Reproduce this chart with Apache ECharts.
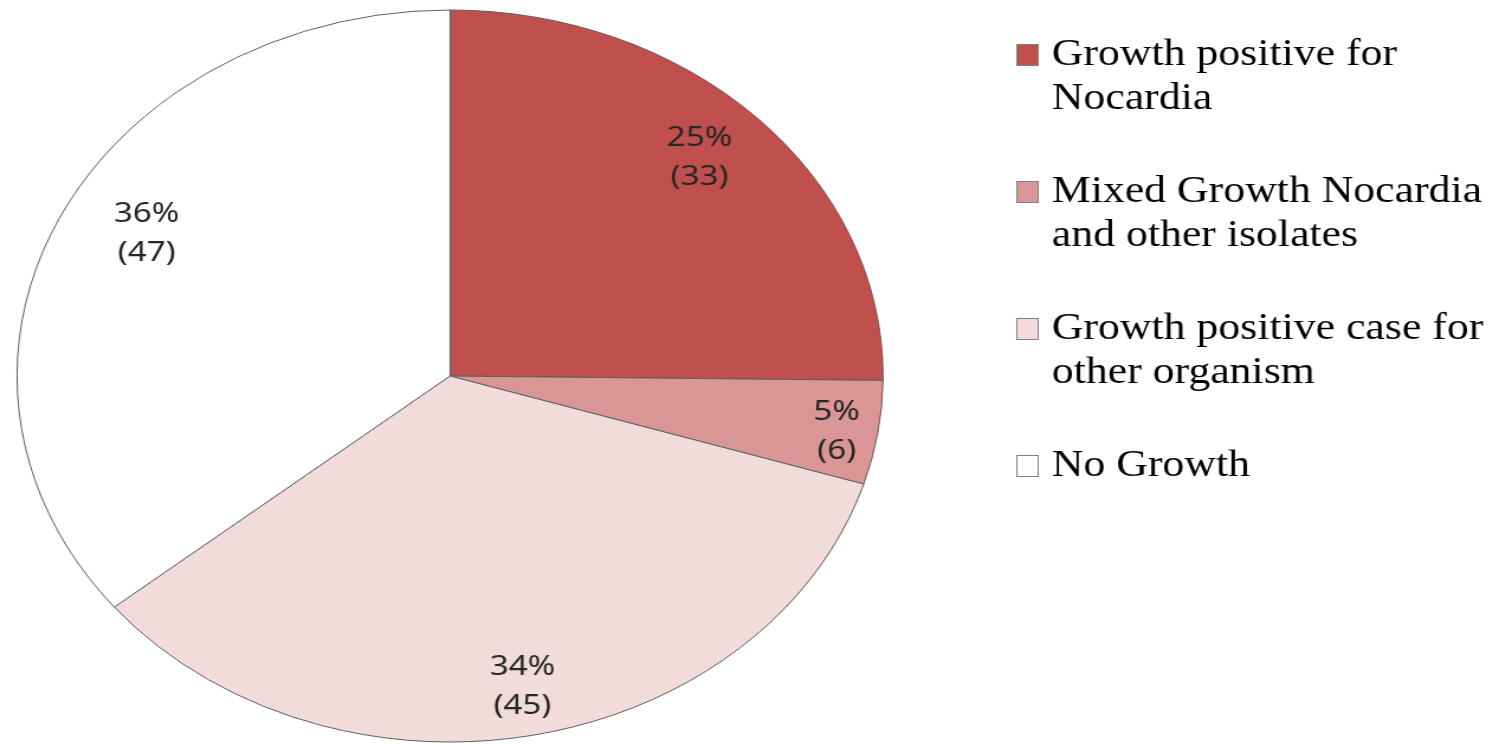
<!DOCTYPE html>
<html>
<head>
<meta charset="utf-8">
<script src="https://cdn.jsdelivr.net/npm/echarts@6/dist/echarts.min.js"></script>
<style>
html,body{margin:0;padding:0;background:#fff;overflow:hidden;width:1493px;height:744px;}
#chart{position:absolute;left:0;top:0;width:1262px;height:744px;transform:scaleX(1.1831);transform-origin:0 0;}
</style>
</head>
<body>
<div id="chart"></div>
<script>
const categories = ['Growth positive for Nocardia', 'Mixed Growth Nocardia and other isolates', 'Growth positive case for other organism', 'No Growth'];
const legendLines = [['Growth positive for', 'Nocardia'], ['Mixed Growth Nocardia', 'and other isolates'], ['Growth positive case for', 'other organism'], ['No Growth']];
const counts = [33, 6, 45, 47];
const colors = ['#C0504D', '#DA9694', '#F2DCDB', '#FFFFFF'];

const serif = 'Liberation Serif';
const chart = echarts.init(document.getElementById('chart'));
const data = categories.map((n, i) => ({ name: n, value: counts[i], itemStyle: { color: colors[i] } }));
const rich = {
  g: { width: 12, height: 20 },
  sp: { width: 29, height: 20 }
};
colors.forEach((c, i) => {
  rich['sq' + i] = { width: 17, height: 20, backgroundColor: c, borderColor: '#7f7f7f', borderWidth: 1 };
});
const labelShift = [[-10, 0], [20, 7], [2, 6], [24, -9]];

chart.setOption({
  animation: false,
  legend: {
    orient: 'vertical',
    left: 854,
    top: 33,
    padding: 0,
    itemGap: 49,
    itemWidth: 0,
    itemHeight: 0,
    icon: 'rect',
    selectedMode: false,
    data: categories,
    formatter: function (name) {
      const i = categories.indexOf(name);
      const lines = legendLines[i];
      return lines.map((l, k) => (k === 0 ? '{sq' + i + '| }{g| }' : '{sp| }') + l).join('\n');
    },
    textStyle: { rich: rich, fontFamily: serif, fontSize: 37, lineHeight: 44, color: '#000' }
  },
  series: [
    {
      type: 'pie',
      center: [380.4, 376],
      radius: [0, 366],
      startAngle: 90,
      clockwise: true,
      label: { show: false },
      labelLine: { show: false },
      emphasis: { disabled: true },
      itemStyle: { borderColor: '#5e5e5e', borderWidth: 1 },
      data: data
    },
    {
      type: 'pie',
      center: [380.4, 376],
      radius: [249, 366],
      startAngle: 90,
      clockwise: true,
      silent: true,
      emphasis: { disabled: true },
      itemStyle: { color: 'rgba(0,0,0,0)', borderWidth: 0 },
      label: {
        show: true,
        position: 'inside',
        fontFamily: 'Noto Sans',
        fontSize: 28,
        lineHeight: 39,
        color: '#262626',
        formatter: function (p) { return Math.round(p.percent) + '%\n(' + p.value + ')'; }
      },
      labelLayout: function (p) { return { dx: labelShift[p.dataIndex][0], dy: labelShift[p.dataIndex][1] }; },
      data: categories.map((n, i) => ({ name: n, value: counts[i] }))
    }
  ]
});
</script>
</body>
</html>
